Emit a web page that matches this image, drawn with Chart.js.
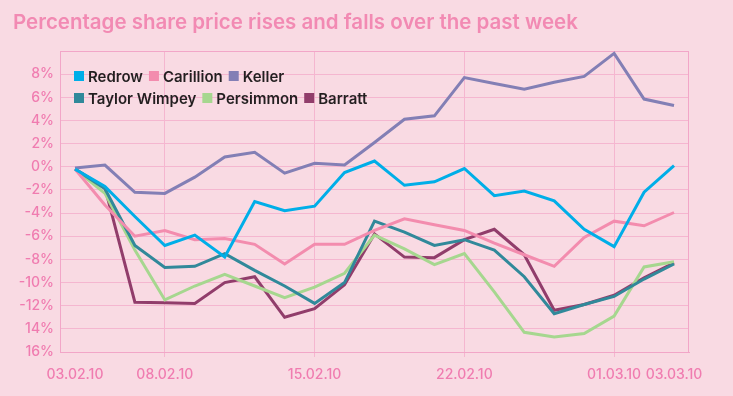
<!DOCTYPE html>
<html>
<head>
<meta charset="utf-8">
<script src="https://cdn.jsdelivr.net/npm/chart.js@4"></script>
<style>
  body { margin: 0; background: #f9dae3; }
  canvas { display: block; }
</style>
</head>
<body>
<canvas id="shares" width="733" height="396"></canvas>
<script>
var dates = ['03.02.10', '04.02.10', '05.02.10', '08.02.10', '09.02.10', '10.02.10', '11.02.10',
  '12.02.10', '15.02.10', '16.02.10', '17.02.10', '18.02.10', '19.02.10', '22.02.10', '23.02.10',
  '24.02.10', '25.02.10', '26.02.10', '01.03.10', '02.03.10', '03.03.10'];
var shownDates = ['03.02.10', '08.02.10', '15.02.10', '22.02.10', '01.03.10', '03.03.10'];
var gridDates = ['08.02.10', '15.02.10', '22.02.10', '01.03.10'];

var yTicks = [-16, -14, -12, -10, -8, -6, -4, -2, 0, 2, 4, 6, 8, 10];
var yTickLabels = ['16%', '14%', '-12%', '-10%', '-8%', '-6%', '-4%', '-2%', '0%', '2%', '4%', '6%', '8%', ''];

var redrow = [-0.2, -1.7, -4.3, -6.8, -5.9, -7.8, -3.0, -3.8, -3.4, -0.5, 0.5, -1.6, -1.3, -0.15, -2.5, -2.1, -2.95, -5.4, -6.9, -2.2, 0.1];
var carillion = [-0.2, -3.3, -6.0, -5.5, -6.3, -6.2, -6.7, -8.4, -6.7, -6.7, -5.5, -4.5, -5.0, -5.5, -6.6, -7.6, -8.6, -6.1, -4.7, -5.1, -3.95];
var keller = [-0.1, 0.15, -2.2, -2.3, -0.9, 0.85, 1.25, -0.55, 0.3, 0.15, 2.1, 4.1, 4.4, 7.7, 7.2, 6.7, 7.3, 7.8, 9.8, 5.85, 5.3];
var taylorWimpey = [-0.2, -1.9, -6.8, -8.7, -8.6, -7.5, -8.95, -10.3, -11.8, -10.0, -4.7, -5.65, -6.8, -6.3, -7.2, -9.5, -12.7, -11.9, -11.2, -9.7, -8.4];
var persimmon = [-0.2, -2.3, -7.2, -11.5, -10.3, -9.3, -10.3, -11.3, -10.4, -9.2, -5.9, -7.1, -8.45, -7.5, -10.8, -14.3, -14.7, -14.4, -12.9, -8.65, -8.2];
var barratt = [-0.2, -1.8, -11.7, -11.75, -11.8, -10.0, -9.5, -13.0, -12.25, -10.2, -5.8, -7.8, -7.85, -6.3, -5.4, -7.6, -12.4, -11.9, -11.1, -9.6, -8.3];

var gridColor = '#f5b6d0';
var borderColor = '#f2a6c8';
var pink = '#f07cb0';

function line(label, data, color) {
  return {
    label: label,
    data: data,
    borderColor: color,
    backgroundColor: color,
    borderWidth: 3,
    pointRadius: 0,
    tension: 0,
    fill: false
  };
}

// legend sits inside the plot, two rows of three
var insideLegend = {
  id: 'insideLegend',
  afterDatasetsDraw: function (chart) {
    var ctx = chart.ctx;
    var area = chart.chartArea;
    var rows = [[0, 1, 2], [3, 4, 5]];
    ctx.save();
    ctx.font = '600 15px Inter';
    ctx.textBaseline = 'middle';
    rows.forEach(function (row, r) {
      var x = area.left + 14;
      var y = area.top + 25 + r * 22;
      row.forEach(function (i) {
        var ds = chart.data.datasets[i];
        ctx.fillStyle = ds.borderColor;
        ctx.fillRect(x, y - 5, 10, 10);
        ctx.fillStyle = '#231f20';
        ctx.fillText(ds.label, x + 14, y + 1);
        x += 14 + ctx.measureText(ds.label).width + 6;
      });
    });
    ctx.restore();
  }
};

var frame = {
  id: 'frame',
  beforeDatasetsDraw: function (chart) {
    var ctx = chart.ctx;
    var a = chart.chartArea;
    ctx.save();
    ctx.strokeStyle = borderColor;
    ctx.lineWidth = 1;
    ctx.strokeRect(Math.round(a.left) + 0.5, Math.round(a.top) + 0.5,
      Math.round(a.right - a.left) - 1, Math.round(a.bottom - a.top));
    ctx.restore();
  }
};

var ctx = document.getElementById('shares').getContext('2d');

var sharesChart = new Chart(ctx, {
  type: 'line',
  data: {
    labels: dates,
    datasets: [
      line('Redrow', redrow, '#00aee8'),
      line('Carillion', carillion, '#f38cae'),
      line('Keller', keller, '#837fb5'),
      line('Taylor Wimpey', taylorWimpey, '#31899a'),
      line('Persimmon', persimmon, '#a6d78f'),
      line('Barratt', barratt, '#913d6b')
    ]
  },
  options: {
    responsive: false,
    devicePixelRatio: 1,
    animation: false,
    layout: { padding: { left: 13, right: 44, top: 0, bottom: 0 } },
    plugins: {
      legend: { display: false },
      tooltip: { enabled: false },
      title: {
        display: true,
        text: 'Percentage share price rises and falls over the past week',
        align: 'start',
        color: '#f28ab3',
        font: { family: 'Inter', size: 20.5, weight: '600' },
        padding: { top: 10.6, bottom: 15.8 }
      }
    },
    scales: {
      x: {
        type: 'category',
        offset: true,
        grid: {
          offset: false,
          color: function (c) {
            return gridDates.indexOf(dates[c.index]) >= 0 ? gridColor : 'rgba(0,0,0,0)';
          },
          tickLength: 5
        },
        border: { color: borderColor },
        ticks: {
          autoSkip: false,
          maxRotation: 0,
          padding: 9,
          color: pink,
          font: { family: 'Inter', size: 14, weight: '500' },
          callback: function (v, i) {
            return shownDates.indexOf(dates[i]) >= 0 ? dates[i] : '';
          }
        },
        afterFit: function (s) { s.height = 44; }
      },
      y: {
        min: -16,
        max: 10,
        grid: { color: gridColor, drawTicks: false },
        border: { color: borderColor },
        ticks: {
          stepSize: 2,
          padding: 6,
          color: pink,
          font: { family: 'Inter', size: 14, weight: '500' },
          callback: function (v) {
            var i = yTicks.indexOf(v);
            return i >= 0 ? yTickLabels[i] : '';
          }
        },
        afterFit: function (s) { s.width = 47; }
      }
    }
  },
  plugins: [frame, insideLegend]
});
</script>
</body>
</html>
